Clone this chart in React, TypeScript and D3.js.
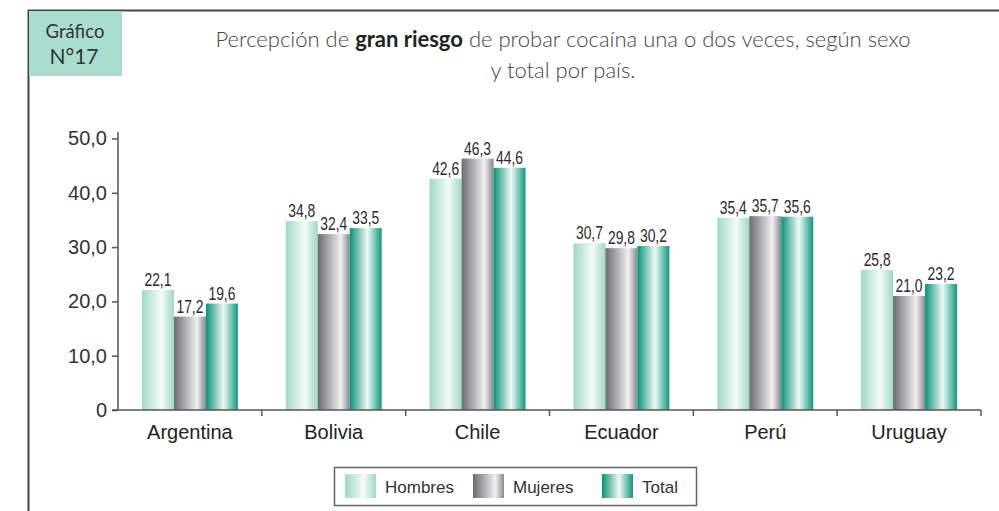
import { useEffect, useRef } from 'react'
import * as d3 from 'd3'

const countries = ['Argentina', 'Bolivia', 'Chile', 'Ecuador', 'Perú', 'Uruguay']
const seriesNames = ['Hombres', 'Mujeres', 'Total']
const hombres = [22.1, 34.8, 42.6, 30.7, 35.4, 25.8]
const mujeres = [17.2, 32.4, 46.3, 29.8, 35.7, 21.0]
const total = [19.6, 33.5, 44.6, 30.2, 35.6, 23.2]
const yTicks = [0, 10, 20, 30, 40, 50]

// gradient stops per series: [left, center, right]
const gradients = [
  { id: 'gH', stops: [['0%', '#9fd9c5'], ['60%', '#f4fbf8'], ['100%', '#9fd9c5']] },
  { id: 'gM', stops: [['0%', '#6b6b70'], ['72%', '#f0f0f2'], ['100%', '#88888d']] },
  { id: 'gT', stops: [['0%', '#0a9274'], ['55%', '#eef8f5'], ['100%', '#12987b']] },
]

const sans = '"Liberation Sans", Arial, Helvetica, sans-serif'
const titleFont = 'Lato, "Open Sans", sans-serif'

export default function App() {
  const svgRef = useRef<SVGSVGElement>(null)

  useEffect(() => {
    if (!svgRef.current) return
    const width = 999
    const height = 511
    const svg = d3.select(svgRef.current)
    svg.selectAll('*').remove()
    svg.attr('width', width).attr('height', height)

    const defs = svg.append('defs')
    gradients.forEach(g => {
      const lg = defs.append('linearGradient').attr('id', g.id)
        .attr('x1', '0%').attr('x2', '100%').attr('y1', '0%').attr('y2', '0%')
      g.stops.forEach(s => lg.append('stop').attr('offset', s[0]).attr('stop-color', s[1]))
    })

    svg.append('rect').attr('width', width).attr('height', height).attr('fill', '#fff')

    // frame
    svg.append('path')
      .attr('d', 'M28.5,511 L28.5,10.5 L999,10.5')
      .attr('fill', 'none').attr('stroke', '#444').attr('stroke-width', 2)

    svg.append('rect').attr('x', 29).attr('y', 11).attr('width', 93).attr('height', 65).attr('fill', '#a9ddd0')
    svg.append('text').attr('x', 75).attr('y', 38).attr('text-anchor', 'middle')
      .style('font-family', titleFont).style('font-size', '18.5px').style('fill', '#333')
      .text('Gráfico')
    svg.append('text').attr('x', 74).attr('y', 64).attr('text-anchor', 'middle')
      .style('font-family', titleFont).style('font-size', '21px').style('fill', '#333')
      .text('N°17')

    // title
    const title = svg.append('text').attr('x', 563).attr('y', 47).attr('text-anchor', 'middle')
      .style('font-family', titleFont).style('font-size', '22px').style('fill', '#444')
      .style('font-weight', 300)
    title.append('tspan').text('Percepción de ')
    title.append('tspan').style('font-weight', 700).style('fill', '#222').text('gran riesgo')
    title.append('tspan').text(' de probar cocaína una o dos veces, según sexo')
    svg.append('text').attr('x', 563).attr('y', 78).attr('text-anchor', 'middle')
      .style('font-family', titleFont).style('font-size', '22px').style('fill', '#444')
      .style('font-weight', 300)
      .text('y total por país.')

    const x0 = d3.scaleBand().domain(countries).range([118, 981]).paddingInner(0.333).paddingOuter(0.1665)
    const x1 = d3.scaleBand().domain(seriesNames).range([0, x0.bandwidth()])
    const y = d3.scaleLinear().domain([0, 50]).range([410, 138.5])

    const values = [hombres, mujeres, total]
    const fmt = (v: number) => v.toFixed(1).replace('.', ',')

    // bars
    seriesNames.forEach((s, si) => {
      const g = svg.append('g')
      g.selectAll('rect').data(values[si]).enter().append('rect')
        .attr('x', (d, i) => x0(countries[i])! + x1(s)!)
        .attr('y', d => y(d))
        .attr('width', x1.bandwidth())
        .attr('height', d => y(0) - y(d))
        .attr('fill', `url(#${gradients[si].id})`)
      g.selectAll('text').data(values[si]).enter().append('text')
        .attr('transform', (d, i) =>
          `translate(${x0(countries[i])! + x1(s)! + x1.bandwidth() / 2},${y(d) - 4}) scale(0.77,1)`)
        .attr('text-anchor', 'middle')
        .style('font-family', sans)
        .style('font-size', '18px').style('fill', '#2a2a2a')
        .text(d => fmt(d))
    })

    // y axis
    const yAxis = d3.axisLeft(y).tickValues(yTicks).tickSize(6).tickPadding(5)
      .tickFormat(d => (d === 0 ? '0' : fmt(d as number)))
    const ya = svg.append('g').attr('transform', 'translate(118,0)').call(yAxis)
    ya.select('.domain').attr('stroke', '#555').attr('stroke-width', 1.5).attr('d', 'M0,132V410')
    ya.selectAll('line').attr('stroke', '#555').attr('stroke-width', 1.5)
    ya.selectAll('text').style('font-family', sans)
      .style('font-size', '20px').style('fill', '#333')

    // x axis
    const boundaries = countries.map(c => x0(c)! - x0.step() * x0.paddingInner() / 2)
    boundaries.push(981)
    const xa = svg.append('g')
    xa.append('line').attr('x1', 112).attr('x2', 981).attr('y1', 410).attr('y2', 410)
      .attr('stroke', '#555').attr('stroke-width', 1.5)
    xa.selectAll('line.t').data(boundaries.slice(1)).enter().append('line').attr('class', 't')
      .attr('x1', d => d).attr('x2', d => d).attr('y1', 410).attr('y2', 416)
      .attr('stroke', '#555').attr('stroke-width', 1.5)
    xa.selectAll('text').data(countries).enter().append('text')
      .attr('x', d => x0(d)! + x0.bandwidth() / 2).attr('y', 439)
      .attr('text-anchor', 'middle')
      .style('font-family', sans)
      .style('font-size', '20px').style('fill', '#222')
      .text(d => d)

    // legend
    const lg = svg.append('g')
    lg.append('rect').attr('x', 334.5).attr('y', 467.5).attr('width', 362).attr('height', 38)
      .attr('fill', '#fff').attr('stroke', '#666').attr('stroke-width', 1.5)
    const legendX = [345, 473, 602]
    seriesNames.forEach((s, i) => {
      lg.append('rect').attr('x', legendX[i]).attr('y', 474).attr('width', 31).attr('height', 24)
        .attr('fill', `url(#${gradients[i].id})`)
      lg.append('text').attr('x', legendX[i] + 40).attr('y', 493)
        .style('font-family', sans)
        .style('font-size', '17px').style('fill', '#333')
        .text(s)
    })
  }, [])

  return <svg ref={svgRef} style={{ display: 'block', position: 'absolute', left: 0, top: 0 }}></svg>
}
